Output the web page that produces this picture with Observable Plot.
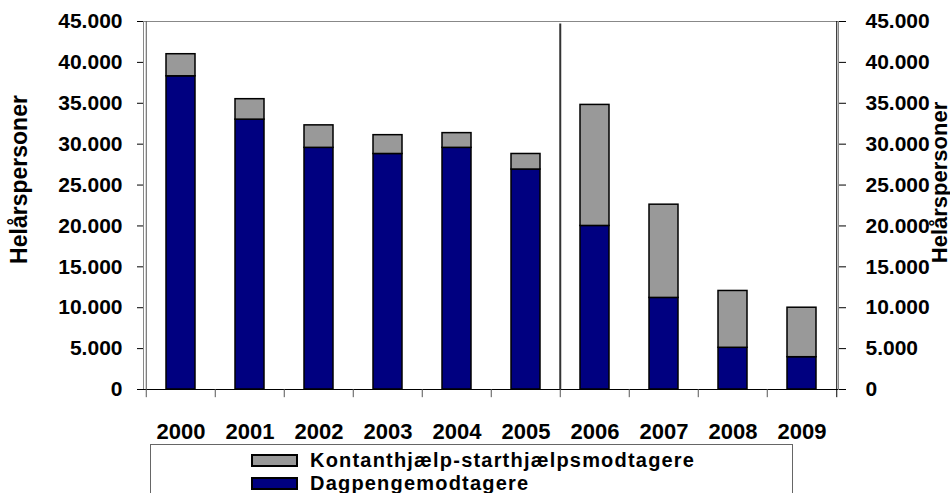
<!DOCTYPE html>
<html><head><meta charset="utf-8">
<script src="https://cdn.jsdelivr.net/npm/d3@7"></script>
<script src="https://cdn.jsdelivr.net/npm/@observablehq/plot@0.6"></script>
<style>
body{margin:0;background:#fff;font-family:"Liberation Sans",Arial,sans-serif;overflow:hidden;}
#chart svg{display:block;overflow:visible;}
#legend{margin-left:150px;width:643px;height:80px;box-sizing:border-box;border:1px solid #666;border-bottom:none;padding-top:3.5px;}
.row{display:flex;align-items:center;height:23px;line-height:23px;font-weight:bold;font-size:20px;letter-spacing:1.2px;color:#000;}
.sw{width:47px;height:13px;box-sizing:border-box;border:2px solid #000;margin-left:100px;margin-right:12px;}
</style></head><body><div id="chart"></div><div id="legend"></div>
<script>
const years = ["2000","2001","2002","2003","2004","2005","2006","2007","2008","2009"];
const dagpenge = [38300, 33000, 29550, 28800, 29550, 26900, 20000, 11200, 5100, 3950];
const kontant  = [2700, 2500, 2750, 2300, 1800, 1900, 14800, 11400, 6950, 6050];
const seriesNames = ["Dagpengemodtagere", "Kontanthjælp-starthjælpsmodtagere"];
const legendOrder = ["Kontanthjælp-starthjælpsmodtagere", "Dagpengemodtagere"];
const colors = ["#000080", "#999999"];
const yTicks = [0,5000,10000,15000,20000,25000,30000,35000,40000,45000];
const yTitle = "Helårspersoner";
const divider = "2006";
const dividerTop = 44700;
const tickLen = 1000;

const W=950, H=444, mL=143, mR=112, mT=21, mB=55;
const bw = (W-mL-mR)/years.length;
const data = years.flatMap((yr,i)=>[
  {year:yr, series:seriesNames[0], value:dagpenge[i]},
  {year:yr, series:seriesNames[1], value:kontant[i]}
]);
const fmt = d => d3.format(",")(d).replace(/,/g,".");
const chart = Plot.plot({
  width:W, height:H, marginLeft:mL, marginRight:mR, marginTop:mT, marginBottom:mB,
  style:{fontFamily:"'Liberation Sans', Arial, sans-serif", fontWeight:"bold", color:"black", background:"white"},
  x:{domain:years, padding:0},
  y:{domain:[0,45000]},
  color:{domain:seriesNames, range:colors},
  marks:[
    Plot.barY(data,{x:"year", y:"value", fill:"series", stroke:"black", strokeWidth:1.5, insetLeft:20, insetRight:20}),
    Plot.frame({stroke:"#888"}),
    Plot.ruleY([0],{stroke:"black"}),
    Plot.ruleX([years[0]],{x:d=>d, dx:-bw/2, stroke:"#555"}),
    Plot.ruleX([years[years.length-1]],{x:d=>d, dx:bw/2, stroke:"black"}),
    Plot.ruleX(years,{x:d=>d, dx:-bw/2, y1:0, y2:-tickLen, stroke:"#555"}),
    Plot.ruleX([years[years.length-1]],{x:d=>d, dx:bw/2, y1:0, y2:-tickLen, stroke:"black"}),
    Plot.ruleX([divider],{x:d=>d, dx:-bw/2, y1:0, y2:dividerTop, stroke:"#333", strokeWidth:2}),
    Plot.axisX({tickSize:0, tickPadding:34, fontSize:22, label:null}),
    Plot.axisY({anchor:"left", ticks:yTicks, tickFormat:fmt, tickSize:6, tickPadding:15, label:null, fontSize:21}),
    Plot.axisY({anchor:"right", ticks:yTicks, tickFormat:fmt, tickSize:7, tickPadding:20, label:null, fontSize:21}),
    Plot.text([yTitle],{frameAnchor:"left", dx:-124, dy:-26, rotate:-90, textAnchor:"middle", fontSize:23, fontWeight:"bold"}),
    Plot.text([yTitle],{frameAnchor:"right", dx:101, dy:-23, rotate:-90, textAnchor:"middle", fontSize:22, fontWeight:"bold"})
  ]
});
document.getElementById("chart").appendChild(chart);
const lg = document.getElementById("legend");
legendOrder.forEach(name=>{
  const r=document.createElement("div"); r.className="row";
  const s=document.createElement("div"); s.className="sw"; s.style.background=colors[seriesNames.indexOf(name)];
  const t=document.createElement("span"); t.textContent=name;
  r.appendChild(s); r.appendChild(t); lg.appendChild(r);
});
</script></body></html>
